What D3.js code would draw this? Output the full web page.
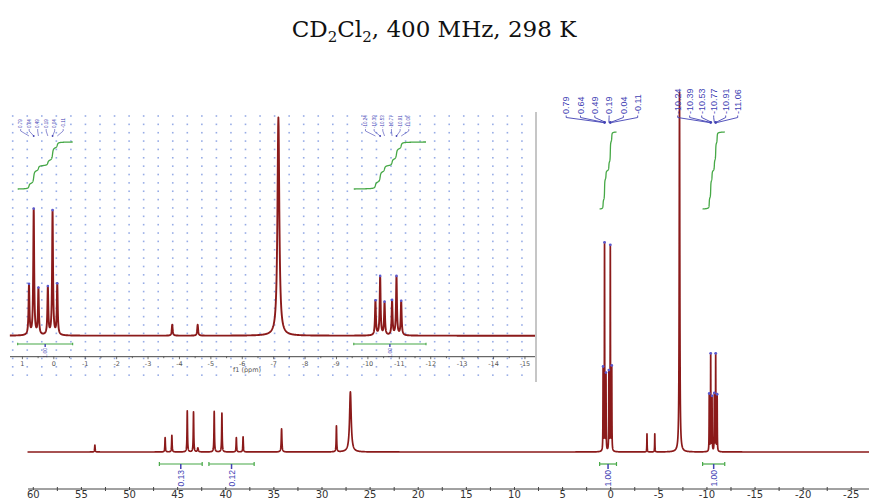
<!DOCTYPE html>
<html>
<head>
<meta charset="utf-8">
<script src="https://cdn.jsdelivr.net/npm/d3@7"></script>
<style>
  body { margin: 0; background: #fff; }
  svg { display: block; }
</style>
</head>
<body>
<svg id="chart" width="869" height="499"></svg>
<script>
// ---- spectrum data (chemical shift in ppm, relative intensity) ----
const peakShifts    = [53.6, 46.3, 45.6, 44.0, 43.35, 42.9, 41.2, 40.4, 38.9, 38.2, 34.2, 28.5, 27.05, -3.77, -4.58, -7.15];
const peakIntensity = [1.9, 4.0, 4.6, 11.4, 11.1, 1.1, 11.25, 10.8, 4.0, 4.2, 6.4, 7.2, 16.7, 5.0, 5.0, 100];
const peakWidth     = [0.03, 0.03, 0.03, 0.03, 0.03, 0.05, 0.03, 0.03, 0.03, 0.03, 0.04, 0.03, 0.1, 0.017, 0.017, 0.035];

// picked multiplets (labelled peaks)
const multipletShifts = [
  [0.79, 0.64, 0.49, 0.19, 0.04, -0.11],
  [-10.24, -10.39, -10.53, -10.77, -10.91, -11.06]
];
const multipletIntensity = [
  [22.9, 57.6, 21.1, 21.8, 56.9, 23.2],
  [15.8, 26.9, 15.0, 15.8, 26.9, 15.6]
];
const multipletWidth = 0.017;

// integral regions
const integralFrom   = [46.9, 41.75, 1.15, -9.55];
const integralTo     = [42.45, 37.05, -0.6, -11.85];
const integralLabels = ["0.13", "0.12", "1.00", "1.00"];

// axis ticks
const mainTicks  = [60, 55, 50, 45, 40, 35, 30, 25, 20, 15, 10, 5, 0, -5, -10, -15, -20, -25];
const insetTicks = [1, 0, -1, -2, -3, -4, -5, -6, -7, -8, -9, -10, -11, -12, -13, -14, -15];

const titleParts = [["CD", false], ["2", true], ["Cl", false], ["2", true], [", 400 MHz, 298 K", false]];

// ---- build peak table ----
const peaks = peakShifts.map((s, i) => ({ s, h: peakIntensity[i], w: peakWidth[i] }));
multipletShifts.forEach((g, gi) => g.forEach((s, i) =>
  peaks.push({ s, h: multipletIntensity[gi][i], w: multipletWidth })));

function lorentz(s) {
  let v = 0;
  for (const p of peaks) { const d = s - p.s; v += p.h * p.w * p.w / (p.w * p.w + d * d); }
  return v;
}
// cumulative integral from a down to s (analytic Lorentzian integral)
function cumInt(a, s) {
  let v = 0;
  for (const p of peaks) v += p.h * p.w * (Math.atan((a - p.s) / p.w) - Math.atan((s - p.s) / p.w));
  return v;
}

const samples = [];
for (let s = 60.7; s >= -27; s -= 0.02) samples.push(s);
peaks.forEach(p => { for (let k = -80; k <= 80; k++) samples.push(p.s + k * p.w * 0.2); });
samples.sort((a, b) => b - a);
const spectrum = samples.map(s => [s, lorentz(s)]);

const svg = d3.select("#chart");
const RED = "#8b1a1a", GREEN = "#46a846", BLUE = "#4242b4";
const LABEL_FONT = "'Liberation Sans Narrow', 'Liberation Sans', Arial, sans-serif";

// ---- title ----
const title = svg.append("text")
  .attr("x", 434).attr("y", 37).attr("text-anchor", "middle")
  .attr("font-family", "'DejaVu Serif', 'Liberation Serif', serif")
  .attr("font-size", 23).attr("fill", "#111");
titleParts.forEach(([t, sub], i) => {
  const ts = title.append("tspan").text(t);
  if (sub) ts.attr("font-size", 15).attr("dy", 5);
  else if (i > 0 && titleParts[i - 1][1]) ts.attr("dy", -5);
});

// ---- main plot ----
const x = d3.scaleLinear().domain([60.55, -26.84]).range([28, 869]);
const y = d3.scaleLinear().domain([0, 100]).range([452, 92]);

const defs = svg.append("defs");
defs.append("clipPath").attr("id", "mainClip")
  .append("rect").attr("x", 0).attr("y", 90).attr("width", 869).attr("height", 400);
defs.append("clipPath").attr("id", "insetClip")
  .append("rect").attr("x", 0).attr("y", 112).attr("width", 536).attr("height", 270);

// axis
const axisY = 489;
svg.append("line").attr("x1", 28).attr("x2", 869).attr("y1", axisY).attr("y2", axisY)
  .attr("stroke", "#444").attr("stroke-width", 1);
svg.append("g").selectAll("line.minor").data(mainTicks.map(t => t - 2.5).filter(t => t > -26.8))
  .join("line").attr("x1", d => x(d)).attr("x2", d => x(d))
  .attr("y1", axisY - 2).attr("y2", axisY + 2).attr("stroke", "#444");
svg.append("g").selectAll("line.major").data(mainTicks)
  .join("line").attr("x1", d => x(d)).attr("x2", d => x(d))
  .attr("y1", axisY - 2).attr("y2", axisY + 1).attr("stroke", "#444");
svg.append("g").selectAll("text").data(mainTicks).join("text")
  .attr("x", d => x(d)).attr("y", 498).attr("text-anchor", "middle")
  .attr("font-family", "'DejaVu Sans', Verdana, sans-serif").attr("font-size", 10)
  .attr("fill", "#333").text(d => String(d));

// spectrum
const mainLine = d3.line().x(d => x(d[0])).y(d => y(d[1]));
svg.append("path").datum(spectrum.filter(d => d[0] <= 60.6))
  .attr("clip-path", "url(#mainClip)")
  .attr("d", mainLine).attr("fill", "none").attr("stroke", RED)
  .attr("stroke-width", 1.7).attr("stroke-linejoin", "round");

// peak picks on tops
const picked = [];
multipletShifts.forEach((g, gi) => g.forEach(s => picked.push({ s, g: gi })));
svg.append("g").selectAll("circle").data(picked).join("circle")
  .attr("cx", d => x(d.s)).attr("cy", d => y(lorentz(d.s))).attr("r", 1.4)
  .attr("fill", "#5a5ad0");

// integrals (below spectrum)
function drawIntegrals(g, xs, yBar, tickLen, fontSize, cap, sw) {
  integralFrom.forEach((a, i) => {
    const b = integralTo[i];
    if (a < xs.domain()[1] || b > xs.domain()[0]) return;
    const x1 = xs(a), x2 = xs(b), xc = (x1 + x2) / 2;
    g.append("line").attr("x1", x1).attr("x2", x2).attr("y1", yBar).attr("y2", yBar)
      .attr("stroke", GREEN).attr("stroke-width", sw);
    [x1, x2].forEach(xx => g.append("line").attr("x1", xx).attr("x2", xx)
      .attr("y1", yBar - cap).attr("y2", yBar + cap).attr("stroke", GREEN).attr("stroke-width", sw));
    g.append("line").attr("x1", xc).attr("x2", xc).attr("y1", yBar).attr("y2", yBar + tickLen)
      .attr("stroke", BLUE).attr("stroke-width", sw + 0.3);
    g.append("text").attr("transform", `translate(${xc + fontSize * 0.36},${yBar + tickLen + 1}) rotate(-90)`)
      .attr("text-anchor", "end").attr("font-family", LABEL_FONT).attr("font-size", fontSize)
      .attr("fill", BLUE).text(integralLabels[i]);
  });
}
drawIntegrals(svg.append("g"), x, 464, 5, 8.5, 2, 1.2);

// integral curves for the normalised regions
function drawCurves(g, xs, yBottom, height, sw) {
  integralFrom.forEach((a, i) => {
    if (integralLabels[i] !== "1.00") return;
    const b = integralTo[i], total = cumInt(a, b);
    const pts = d3.range(0, 401).map(k => { const s = a - (a - b) * k / 400; return [s, cumInt(a, s) / total]; });
    g.append("path").datum(pts)
      .attr("d", d3.line().x(d => xs(d[0])).y(d => yBottom - height * d[1]))
      .attr("fill", "none").attr("stroke", GREEN).attr("stroke-width", sw);
  });
}
drawCurves(svg.append("g"), x, 209, 77, 1.3);

// multiplet peak labels with leader fans
function drawPeakLabels(g, xs, spacing, offset, bottom, fontSize, fanTop, fanBottom, sw, dotR) {
  multipletShifts.forEach((grp, gi) => {
    const mean = d3.mean(grp, s => xs(s)) + offset;
    grp.forEach((s, i) => {
      const cx = mean + (i - (grp.length - 1) / 2) * spacing[gi];
      const bx = cx + fontSize * 0.36;
      g.append("text").attr("transform", `translate(${bx},${bottom}) rotate(-90)`)
        .attr("font-family", LABEL_FONT).attr("font-size", fontSize).attr("fill", BLUE)
        .text(s.toFixed(2));
      g.append("path")
        .attr("d", `M${cx},${fanTop}L${cx},${fanTop + 2}L${xs(s)},${fanBottom}`)
        .attr("fill", "none").attr("stroke", BLUE).attr("stroke-width", sw);
    });
    [grp[1], grp[4]].forEach(s => g.append("circle").attr("cx", xs(s)).attr("cy", fanBottom)
      .attr("r", dotR).attr("fill", BLUE));
  });
}
drawPeakLabels(svg.append("g"), x, [14.3, 12], -5.5, 114, 9, 115.5, 122.5, 0.9, 1.4);

// ---- inset (expansion of the 1 … -15 ppm region) ----
const xi = d3.scaleLinear().domain([1.395, -15.32]).range([10, 535]);
const yi = d3.scaleLinear().domain([0, 100]).range([335.7, 117.5]);
const inset = svg.append("g");
inset.append("rect").attr("x", 0).attr("y", 112).attr("width", 536).attr("height", 270).attr("fill", "#fff");

// dotted page grid
const dots = [];
for (let gx = 12.7; gx <= 534; gx += 14.55)
  for (let gy = 116; gy <= 380; gy += 8.36) dots.push([gx, gy]);
inset.append("g").selectAll("rect").data(dots).join("rect")
  .attr("x", d => d[0] - 0.8).attr("y", d => d[1] - 0.8).attr("width", 1.6).attr("height", 1.6)
  .attr("fill", "#7d97e0").attr("opacity", 0.8);
inset.append("line").attr("x1", 536).attr("x2", 536).attr("y1", 112).attr("y2", 382)
  .attr("stroke", "#a0a0a0").attr("stroke-width", 1.2);

const insetLine = d3.line().x(d => xi(d[0])).y(d => yi(d[1]));
inset.append("path").datum(spectrum.filter(d => d[0] <= 1.4 && d[0] >= -15.33))
  .attr("clip-path", "url(#insetClip)")
  .attr("d", insetLine).attr("fill", "none").attr("stroke", RED)
  .attr("stroke-width", 1.9).attr("stroke-linejoin", "round");
inset.append("g").selectAll("circle").data(picked).join("circle")
  .attr("cx", d => xi(d.s)).attr("cy", d => yi(lorentz(d.s))).attr("r", 1.3)
  .attr("fill", "#5a5ad0");

drawIntegrals(inset.append("g"), xi, 344, 3, 5, 1.2, 1.1);
drawCurves(inset.append("g"), xi, 189, 47, 1.3);
drawPeakLabels(inset.append("g"), xi, [8.5, 8.66], -1.2, 128, 4.5, 129, 136, 0.6, 0.9);

// inset axis
const iAxisY = 356.7;
inset.append("line").attr("x1", 10).attr("x2", 535).attr("y1", iAxisY).attr("y2", iAxisY)
  .attr("stroke", "#444").attr("stroke-width", 1);
inset.append("g").selectAll("line").data(insetTicks.concat(insetTicks.map(t => t - 0.5).filter(t => t > -15.3)))
  .join("line").attr("x1", d => xi(d)).attr("x2", d => xi(d))
  .attr("y1", iAxisY).attr("y2", d => Number.isInteger(d) ? iAxisY + 2.5 : iAxisY + 1.5)
  .attr("stroke", "#444").attr("stroke-width", 0.8);
inset.append("g").selectAll("text").data(insetTicks).join("text")
  .attr("x", d => xi(d)).attr("y", 365.5).attr("text-anchor", "middle")
  .attr("font-family", "'DejaVu Sans', Verdana, sans-serif").attr("font-size", 6.5)
  .attr("fill", "#555").text(d => String(d));
inset.append("text").attr("x", 247).attr("y", 372).attr("text-anchor", "middle")
  .attr("font-family", "'DejaVu Sans', Verdana, sans-serif").attr("font-size", 6.5)
  .attr("fill", "#555").text("f1 (ppm)");
</script>
</body>
</html>
